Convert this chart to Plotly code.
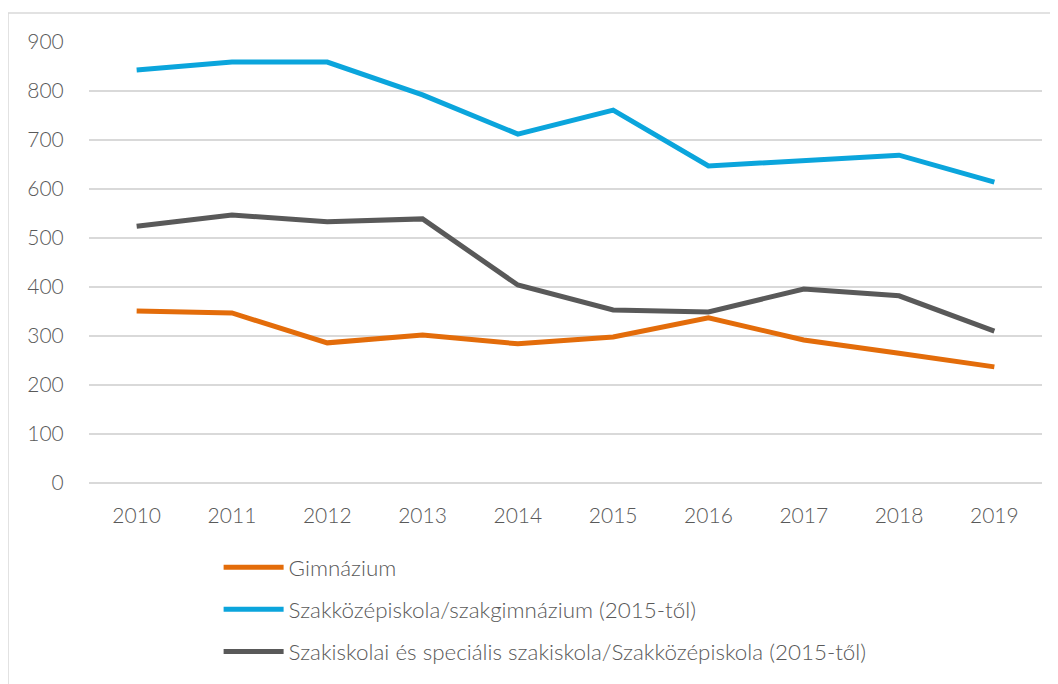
import plotly.graph_objects as go

years = ['2010', '2011', '2012', '2013', '2014', '2015', '2016', '2017', '2018', '2019']
gimnazium = [351, 347, 286, 302, 284, 298, 337, 292, 265, 237]
szakkozep = [843, 859, 859, 792, 712, 761, 647, 657, 669, 614]
szakiskola = [524, 547, 533, 539, 404, 353, 349, 396, 382, 310]

names = ['Gimnázium',
         'Szakközépiskola/szakgimnázium (2015-től)',
         'Szakiskolai és speciális szakiskola/Szakközépiskola (2015-től)']
colors = ['#E36C0A', '#0BA5DC', '#595959']

fig = go.Figure()
for i, (name, vals, col) in enumerate(zip(names, [gimnazium, szakkozep, szakiskola], colors)):
    fig.add_trace(go.Scatter(x=years, y=vals, mode='lines', name=name,
                             legendgroup=str(i),
                             line=dict(color=col, width=5)))

# outer chart border (Excel-like frame)
fig.add_shape(type='rect', xref='paper', yref='paper',
              x0=-0.085, x1=1.2, y0=-1, y1=1.066,
              line=dict(color='#D9D9D9', width=1.5), layer='below')

fig.update_layout(
    width=1050, height=676,
    margin=dict(l=81, r=16, t=34, b=201, autoexpand=False),
    paper_bgcolor='white', plot_bgcolor='white',
    font=dict(family='Lato, Open Sans, sans-serif', size=20, color='#595959', weight=300),
    legend=dict(x=0.136, y=0.204, xanchor='left', yanchor='top', yref='container',
                orientation='v', itemwidth=60, tracegroupgap=10,
                font=dict(size=22.4, color='#595959', weight=300)),
    showlegend=True,
)
fig.update_xaxes(type='category', range=[-0.5, 9.5], showgrid=False,
                 showline=False, ticks='outside', ticklen=14, tickcolor='rgba(0,0,0,0)',
                 tickfont=dict(size=21, color='#595959', weight=300))
fig.update_yaxes(range=[0, 900], dtick=100, showgrid=True, gridcolor='#D9D9D9',
                 gridwidth=1.5, zeroline=True, zerolinecolor='#D9D9D9', zerolinewidth=1.5,
                 showline=False, ticks='outside', ticklen=20, tickcolor='rgba(0,0,0,0)',
                 tickfont=dict(size=21, color='#595959', weight=300))

fig.write_html("out.html")
